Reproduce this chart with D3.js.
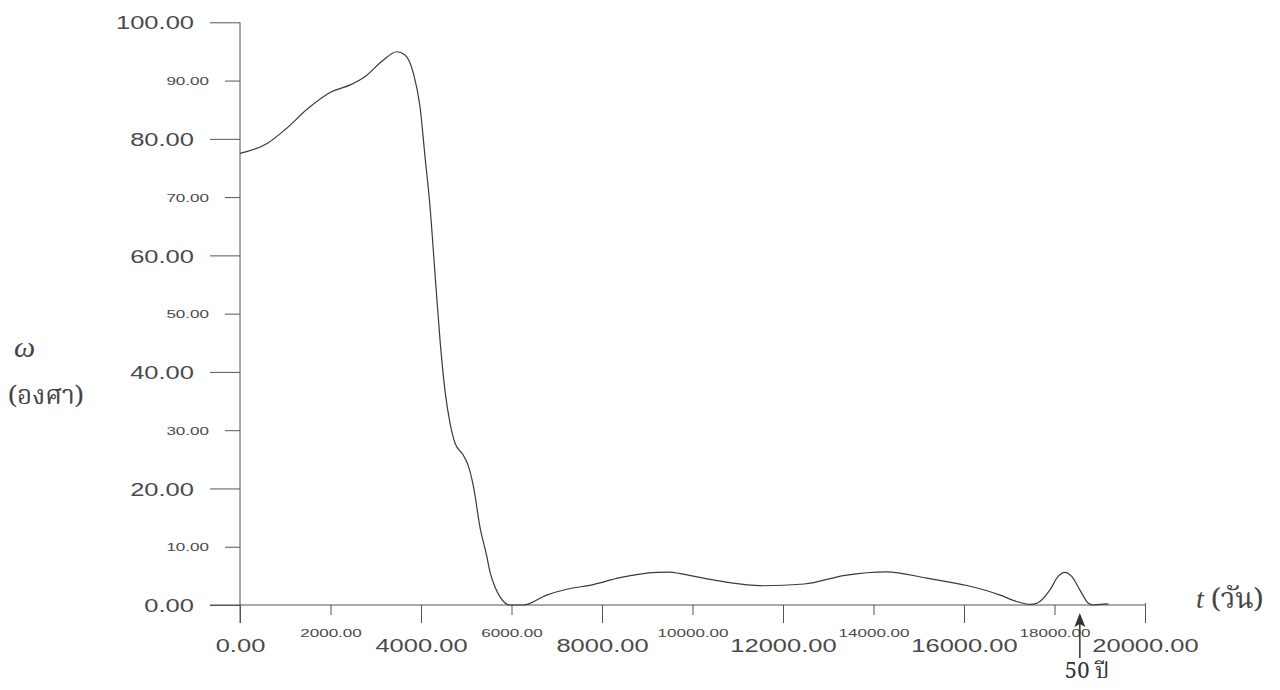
<!DOCTYPE html>
<html>
<head>
<meta charset="utf-8"/>
<script src="https://cdnjs.cloudflare.com/ajax/libs/d3/7.8.5/d3.min.js"></script>
<style>
  body { margin: 0; background: #fff; }
</style>
</head>
<body>
<script>
// time in days and angle omega in degrees
const tDays = [0, 600, 1000, 1500, 2000, 2450, 2750, 3150, 3463, 3646, 3830, 3978, 4088, 4199, 4309,
  4420, 4530, 4641, 4751, 4935, 5040, 5160, 5300, 5450, 5530, 5640, 5746, 5967, 6261, 6777, 7219, 7808,
  8398, 9208, 9500, 9724, 10460, 11570, 12470, 13370, 14280, 15180, 16090, 16800,
  17160, 17460, 17610, 17900, 18080, 18230, 18380, 18560, 18750, 18860, 19000, 19190];
const omega = [77.5, 79.2, 81.6, 85.2, 88.0, 89.3, 90.6, 93.4, 94.95, 94.4, 91.3, 85.5, 77.0, 68.4, 56.9,
  45.5, 36.8, 31.2, 27.8, 25.7, 24.0, 20.3, 13.5, 8.5, 5.5, 3.0, 1.4, 0, 0, 1.7, 2.7, 3.5,
  4.7, 5.6, 5.65, 5.4, 4.3, 3.3, 3.6, 5.1, 5.7, 4.6, 3.3, 1.7,
  0.6, 0.1, 0.3, 2.6, 4.9, 5.6, 4.9, 2.6, 0.3, 0, 0.1, 0.2];

const yTickValues = [0, 10, 20, 30, 40, 50, 60, 70, 80, 90, 100];
const xTickValues = [0, 2000, 4000, 6000, 8000, 10000, 12000, 14000, 16000, 18000, 20000];
const markerDay = 18560;   // "50 ปี" arrow

const width = 1280, height = 690;
const axisColor = '#555', textColor = '#4a4a4a';
const labelFont = '"Liberation Sans", Arial, sans-serif';
const thaiFont = '"Noto Serif Thai", "Noto Sans Thai", "Loma", "Garuda", "Norasi", "Tlwg Typo", "Liberation Serif", serif';

const x = d3.scaleLinear().domain([0, 20000]).range([240, 1145]);
const y = d3.scaleLinear().domain([0, 100]).range([605, 22.3]);

const svg = d3.select('body').append('svg')
    .attr('width', width)
    .attr('height', height);

// labels in the scan use a wide face, so stretch them horizontally
const bigSx = 1.38, smallSx = 1.55;
const isBigY = d => d % 20 == 0, isBigX = d => d % 4000 == 0;

// y axis
const yAxis = svg.append('g')
    .attr('transform', `translate(${x(0)},0)`)
    .call(d3.axisLeft(y).tickValues(yTickValues).tickFormat(d3.format('.2f')).tickSizeOuter(0));
yAxis.select('.domain').remove();
yAxis.selectAll('.tick line')
    .attr('stroke', axisColor)
    .attr('x2', d => isBigY(d) ? -30 : -15);
yAxis.selectAll('.tick text')
    .attr('fill', textColor)
    .attr('font-family', labelFont)
    .attr('font-size', d => isBigY(d) ? 18.5 : 11)
    .attr('transform', d => `scale(${isBigY(d) ? bigSx : smallSx},1)`)
    .attr('x', d => isBigY(d) ? -46 / bigSx : -31 / smallSx)
    .attr('dy', '0.36em');
svg.append('line')
    .attr('x1', x(0)).attr('x2', x(0))
    .attr('y1', y(100)).attr('y2', y(0) + 18)
    .attr('stroke', axisColor);

// x axis
const xAxis = svg.append('g')
    .attr('transform', `translate(0,${y(0)})`)
    .call(d3.axisBottom(x).tickValues(xTickValues).tickFormat(d3.format('.2f')).tickSizeOuter(0));
xAxis.select('.domain').remove();
xAxis.selectAll('.tick line')
    .attr('stroke', axisColor)
    .attr('y1', d => d == 20000 ? -2 : 0)
    .attr('y2', d => isBigX(d) ? 18 : 10);
xAxis.selectAll('.tick text')
    .attr('fill', textColor)
    .attr('font-family', labelFont)
    .attr('font-size', d => isBigX(d) ? 18.5 : 11)
    .attr('transform', d => `scale(${isBigX(d) ? bigSx : smallSx},1)`)
    .attr('y', d => isBigX(d) ? 47 : 32)
    .attr('dy', 0);
svg.append('line')
    .attr('x1', x(0) - 30).attr('x2', x(20000))
    .attr('y1', y(0)).attr('y2', y(0))
    .attr('stroke', axisColor);

// curve
const line = d3.line()
    .x(d => x(d[0]))
    .y(d => y(d[1]))
    .curve(d3.curveMonotoneX);
svg.append('path')
    .datum(tDays.map((t, i) => [t, omega[i]]))
    .attr('fill', 'none')
    .attr('stroke', '#3a3a3a')
    .attr('stroke-width', 1.2)
    .attr('d', line);

// arrow for 50 years
const ax = x(markerDay);
svg.append('line')
    .attr('x1', ax).attr('x2', ax)
    .attr('y1', 658).attr('y2', 622)
    .attr('stroke', '#333').attr('stroke-width', 1.5);
svg.append('path')
    .attr('d', `M${ax},613 L${ax - 5.5},627 L${ax},624 L${ax + 5.5},627 Z`)
    .attr('fill', '#333');
svg.append('text')
    .attr('x', ax - 15).attr('y', 678)
    .attr('font-family', thaiFont)
    .attr('font-size', 22)
    .attr('fill', '#333')
    .text('50 ปี');

// axis titles
svg.append('text')
    .attr('x', 14).attr('y', 357)
    .attr('font-family', '"Liberation Serif", "DejaVu Serif", serif')
    .attr('font-style', 'italic')
    .attr('font-size', 30)
    .attr('fill', '#444')
    .text('ω');
svg.append('text')
    .attr('x', 8).attr('y', 404)
    .attr('font-family', thaiFont)
    .attr('font-size', 26)
    .attr('fill', '#444')
    .text('(องศา)');
const tTitle = svg.append('text')
    .attr('x', 1196).attr('y', 608)
    .attr('font-family', thaiFont)
    .attr('font-size', 28)
    .attr('fill', '#444');
tTitle.append('tspan')
    .attr('font-family', '"Liberation Serif", serif')
    .attr('font-style', 'italic')
    .text('t');
tTitle.append('tspan').text('\u00a0(วัน)');
</script>
</body>
</html>
